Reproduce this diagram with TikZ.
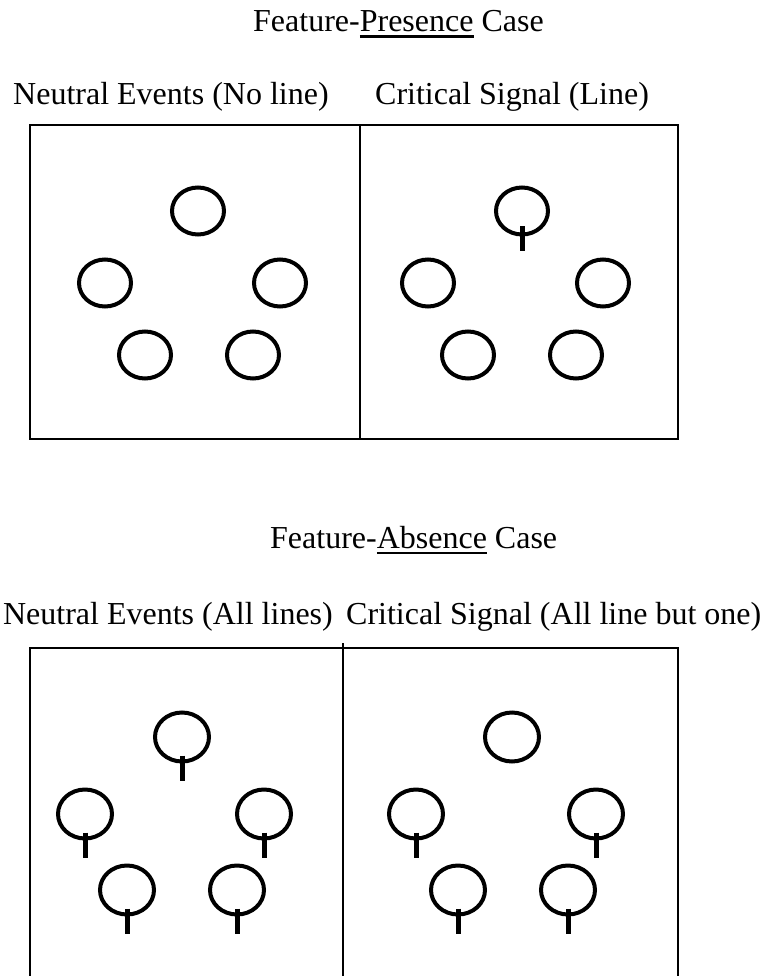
\documentclass[tikz,border=0pt]{standalone}
\usepackage{fontspec}
\setmainfont{Liberation Serif}
\usepackage{tikz}
\usetikzlibrary{positioning, shapes.geometric}
\tikzset{
	frame/.style={line width=2pt},
	event/.style={draw, ellipse, line width=4pt, inner sep=0pt, minimum width=52pt, minimum height=47pt},
	bigevent/.style={event, minimum width=54pt, minimum height=49pt},
	tick/.style={line width=5pt},
	label/.style={inner sep=0pt, font=\fontsize{32}{38}\selectfont},
}
\newcommand{\ulword}[1]{\setbox0\hbox{#1}\leavevmode\rlap{\rule[-6pt]{\wd0}{2.5pt}}\box0\relax}

\begin{document}
\begin{tikzpicture}[x=1pt, y=-1pt]
		\useasboundingbox (0,0) rectangle (761,976);

		% Feature-presence case
		\node[label, anchor=base west] (P) at (253,32) {Feature-\ulword{Presence} Case};
		\node[label, anchor=base west] (PN) at (13,105) {Neutral Events (No line)};
		\node[label, anchor=base west] (PC) at (375,105) {Critical Signal (Line)};

		\draw[frame] (30,125) rectangle (678,439);
		\draw[frame] (360,125) -- (360,439);

		\node[event] (N1) at (198,211) {};
		\node[event] (N2) at (105,283) {};
		\node[event] (N3) at (280,283) {};
		\node[event] (N4) at (145,355) {};
		\node[event] (N5) at (253,355) {};

		\node[event] (C1) at (522,211) {};
		\node[event] (C2) at (428,283) {};
		\node[event] (C3) at (603,283) {};
		\node[event] (C4) at (468,355) {};
		\node[event] (C5) at (576,355) {};

		\draw[tick] ([yshift=10pt]C1.south) -- ([yshift=-14pt]C1.south);

		% Feature-absence case
		\node[label, anchor=base west] (A) at (270,548) {Feature-\ulword{Absence} Case};
		\node[label, anchor=base east] (AN) at (333,624) {Neutral Events (All lines)};
		\node[label, anchor=base west] (AC) at (346,624) {Critical Signal (All line but one)};

		\draw[frame] (30,980) -- (30,648) -- (678,648) -- (678,980);
		\draw[frame] (343,643) -- (343,980);

		\node[bigevent] (M1) at (182,737) {};
		\node[bigevent] (M2) at (85,814) {};
		\node[bigevent] (M3) at (264,814) {};
		\node[bigevent] (M4) at (127,890) {};
		\node[bigevent] (M5) at (237,890) {};

		\node[bigevent] (S1) at (512,737) {};
		\node[bigevent] (S2) at (416,814) {};
		\node[bigevent] (S3) at (596,814) {};
		\node[bigevent] (S4) at (458,890) {};
		\node[bigevent] (S5) at (568,890) {};

		\draw[tick] ([yshift=8pt]M1.south) -- ([yshift=-17pt]M1.south);
		\draw[tick] ([yshift=8pt]M2.south) -- ([yshift=-17pt]M2.south);
		\draw[tick] ([yshift=8pt]M3.south) -- ([yshift=-17pt]M3.south);
		\draw[tick] ([yshift=8pt]M4.south) -- ([yshift=-17pt]M4.south);
		\draw[tick] ([yshift=8pt]M5.south) -- ([yshift=-17pt]M5.south);

		\draw[tick] ([yshift=8pt]S2.south) -- ([yshift=-17pt]S2.south);
		\draw[tick] ([yshift=8pt]S3.south) -- ([yshift=-17pt]S3.south);
		\draw[tick] ([yshift=8pt]S4.south) -- ([yshift=-17pt]S4.south);
		\draw[tick] ([yshift=8pt]S5.south) -- ([yshift=-17pt]S5.south);
	\end{tikzpicture}
\end{document}
